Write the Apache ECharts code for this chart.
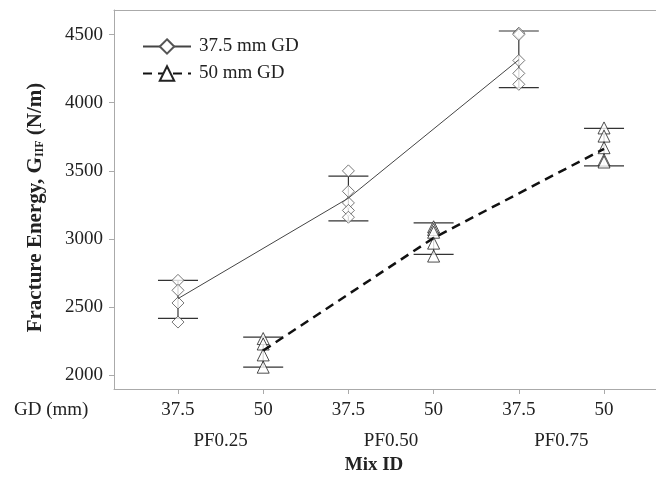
<!DOCTYPE html>
<html>
<head>
<meta charset="utf-8">
<script src="https://cdn.jsdelivr.net/npm/echarts@6/dist/echarts.min.js"></script>
<style>
html,body{margin:0;padding:0;background:#fff;}
#chart{width:656px;height:477px;}
</style>
</head>
<body>
<div id="chart"></div>
<script>
// positions on x axis: 37.5 mm at 1,3,5 ; 50 mm at 2,4,6
var gdLabels = ['37.5', '50', '37.5', '50', '37.5', '50'];
var mixLabels = ['PF0.25', 'PF0.50', 'PF0.75'];
var yTicks = [2000, 2500, 3000, 3500, 4000, 4500];

var x375 = [1, 3, 5];
var x50 = [2, 4, 6];

// individual specimens
var pts375 = [
    [2697, 2624, 2531, 2391],
    [3500, 3350, 3265, 3210, 3160],
    [4510, 4500, 4310, 4215, 4135]
];
var pts50 = [
    [2270, 2230, 2150, 2060],
    [3090, 3070, 3050, 2970, 2875],
    [3815, 3755, 3670, 3580, 3565]
];

// mean values (line) and error bar ends
var mean375 = [2563, 3300, 4315];
var mean50 = [2182, 3008, 3662];
var low375 = [2418, 3133, 4110];
var high375 = [2697, 3461, 4526];
var low50 = [2061, 2888, 3537];
var high50 = [2281, 3118, 3811];

var font = 'Liberation Serif';

function pairs(xs, ys) {
    var arr = [];
    for (var i = 0; i < xs.length; i++) arr.push([xs[i], ys[i]]);
    return arr;
}
function scatterPts(xs, groups) {
    var arr = [];
    for (var i = 0; i < xs.length; i++) {
        for (var j = 0; j < groups[i].length; j++) arr.push([xs[i], groups[i][j]]);
    }
    return arr;
}
function barData(xs, lo, hi) {
    var arr = [];
    for (var i = 0; i < xs.length; i++) arr.push([xs[i], lo[i], hi[i]]);
    return arr;
}

function renderBar(params, api) {
    var x = api.value(0);
    var pLo = api.coord([x, api.value(1)]);
    var pHi = api.coord([x, api.value(2)]);
    var half = 20;
    var st = {stroke: '#333', lineWidth: 1.2};
    return {
        type: 'group',
        children: [
            {type: 'line', shape: {x1: pLo[0], y1: pLo[1], x2: pHi[0], y2: pHi[1]}, style: st},
            {type: 'line', shape: {x1: pLo[0] - half, y1: pLo[1], x2: pLo[0] + half, y2: pLo[1]}, style: st},
            {type: 'line', shape: {x1: pHi[0] - half, y1: pHi[1], x2: pHi[0] + half, y2: pHi[1]}, style: st}
        ]
    };
}

var myChart = echarts.init(document.getElementById('chart'));
var xMin = 0.249, xMax = 6.61;

var option = {
    animation: false,
    textStyle: {fontFamily: font},
    grid: {left: 114, right: 0, top: 10, bottom: 88, outerBoundsMode: 'none', containLabel: false},
    legend: {
        orient: 'vertical',
        left: 142,
        top: 37,
        padding: 0,
        itemWidth: 48,
        itemHeight: 18,
        itemGap: 8,
        textStyle: {fontFamily: font, fontSize: 19, color: '#222', padding: [0, 0, 0, 3]},
        data: ['37.5 mm GD', '50 mm GD']
    },
    graphic: [
        {type: 'text', left: 14, top: 401, style: {text: 'GD (mm)', font: '19px ' + font, fill: '#222'}}
    ],
    xAxis: [
        {
            type: 'value', min: xMin, max: xMax, position: 'bottom',
            splitLine: {show: false},
            axisLine: {lineStyle: {color: '#aaa'}},
            axisTick: {show: true, length: 5, customValues: [1, 2, 3, 4, 5, 6], lineStyle: {color: '#aaa'}},
            axisLabel: {
                customValues: [1, 2, 3, 4, 5, 6], margin: 12, fontSize: 19, color: '#222', fontFamily: font,
                formatter: function (v) { return gdLabels[Math.round(v) - 1]; }
            }
        },
        {
            type: 'value', min: xMin, max: xMax, position: 'bottom', offset: 32,
            splitLine: {show: false}, axisLine: {show: false}, axisTick: {show: false},
            axisLabel: {
                customValues: [1.5, 3.5, 5.5], margin: 11, fontSize: 19, color: '#222', fontFamily: font,
                formatter: function (v) { return mixLabels[Math.round(v - 1.5) / 2]; }
            },
            name: 'Mix ID', nameLocation: 'middle', nameGap: 35,
            nameTextStyle: {fontFamily: font, fontSize: 19, fontWeight: 'bold', color: '#222', padding: [0, 22, 0, 0]}
        },
        {
            type: 'value', min: xMin, max: xMax, position: 'top',
            splitLine: {show: false},
            axisLine: {show: true, lineStyle: {color: '#aaa'}},
            axisTick: {show: false}, axisLabel: {show: false}
        }
    ],
    yAxis: {
        type: 'value', min: 1900, max: 4680,
        splitLine: {show: false},
        axisLine: {show: true, lineStyle: {color: '#aaa'}},
        axisTick: {show: true, length: 5, customValues: yTicks, lineStyle: {color: '#aaa'}},
        axisLabel: {
            customValues: yTicks, margin: 11, fontSize: 19, color: '#222', fontFamily: font,
            formatter: function (v) { return String(v); }
        },
        name: '{t|Fracture Energy, G}{s|IIF}{t| (N/m)}',
        nameLocation: 'middle',
        nameGap: 68,
        nameTextStyle: {
            padding: [0, 16, 0, 0],
            rich: {
                t: {fontFamily: font, fontSize: 21, fontWeight: 'bold', color: '#222'},
                s: {fontFamily: font, fontSize: 12, fontWeight: 'bold', color: '#222', padding: [9, 0, 0, 0]}
            }
        }
    },
    series: [
        {
            name: '37.5 mm GD', type: 'line', data: pairs(x375, mean375),
            symbol: 'diamond', showSymbol: false,
            itemStyle: {color: '#fff', borderColor: '#555', borderWidth: 1},
            lineStyle: {color: '#444', width: 1}
        },
        {
            name: '50 mm GD', type: 'line', data: pairs(x50, mean50),
            symbol: 'triangle', showSymbol: false,
            itemStyle: {color: '#fff', borderColor: '#222', borderWidth: 1},
            lineStyle: {color: '#111', width: 2.5, type: [9, 6]}
        },
        {
            name: 'bars375', type: 'custom', renderItem: renderBar,
            data: barData(x375, low375, high375), encode: {x: 0, y: [1, 2]}
        },
        {
            name: 'bars50', type: 'custom', renderItem: renderBar,
            data: barData(x50, low50, high50), encode: {x: 0, y: [1, 2]}
        },
        {
            name: 'pts375', type: 'scatter', data: scatterPts(x375, pts375),
            symbol: 'diamond', symbolSize: 12,
            itemStyle: {color: '#fff', borderColor: '#555', borderWidth: 1}
        },
        {
            name: 'pts50', type: 'scatter', data: scatterPts(x50, pts50),
            symbol: 'triangle', symbolSize: 12,
            itemStyle: {color: '#fff', borderColor: '#222', borderWidth: 1}
        }
    ]
};
myChart.setOption(option);
</script>
</body>
</html>
